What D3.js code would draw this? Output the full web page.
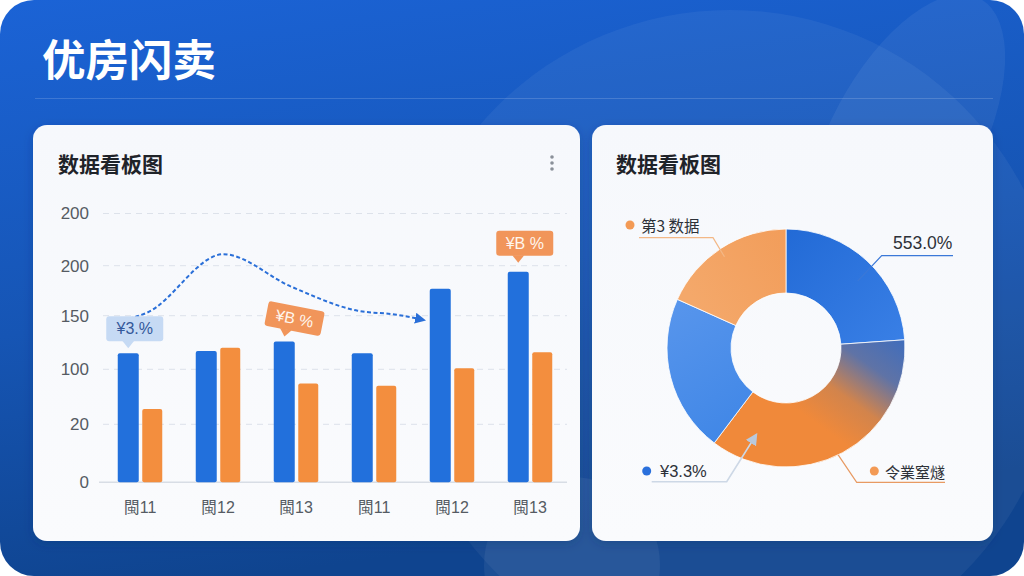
<!DOCTYPE html>
<html><head><meta charset="utf-8">
<script src="https://cdn.jsdelivr.net/npm/d3@7"></script>
<style>html,body{margin:0;padding:0;background:#fff;} svg{display:block}</style>
</head><body>
<svg id="c" width="1024" height="576"></svg>
<script>
// ---------- data ----------
const pageTitle = "优房闪卖";
const cardTitle = "数据看板图";
const categories = ["閩11","閩12","閩13","閩11","閩12","閩13"];
const seriesBlue = [115, 117, 126, 115, 177, 194];
const seriesOrange = [64, 120, 87, 85, 101, 116];
const yTickValues = [0, 50, 100, 150, 200, 250];
const yTickLabels = ["0","20","100","150","200","200"];
const trendIdx = [-0.08, 0.15, 1.13, 2.0, 2.85, 3.35, 3.7];
const trendVals = [147, 153, 211, 179, 155, 151, 146];
const calloutIdx = [0, 2, 5];
const calloutText = ["¥3.%", "¥B %", "¥B %"];
const calloutKind = ["blue", "orange", "orange"];
const pieNames = ["553.0%", "令業窒燧", "¥3.3%", "第3 数据"];
const pieValues = [23.9, 36.4, 21.4, 18.3];

// ---------- setup ----------
const svg = d3.select("#c");
const W = 1024, H = 576;
const FONT = "'Liberation Sans','Noto Sans CJK SC',sans-serif";
const CJK = "'Noto Sans CJK SC','Liberation Sans',sans-serif";
const defs = svg.append("defs");

const bg = defs.append("linearGradient").attr("id","bg").attr("x1",0).attr("y1",0).attr("x2",0.25).attr("y2",1);
bg.append("stop").attr("offset","0").attr("stop-color","#1b63d6");
bg.append("stop").attr("offset","0.55").attr("stop-color","#1655b4");
bg.append("stop").attr("offset","1").attr("stop-color","#0f448f");

const clip = defs.append("clipPath").attr("id","bgclip");
clip.append("rect").attr("width",W).attr("height",H).attr("rx",34);

const sh = defs.append("filter").attr("id","shadow").attr("x","-10%").attr("y","-10%").attr("width","120%").attr("height","125%");
sh.append("feDropShadow").attr("dx",0).attr("dy",3).attr("stdDeviation",5).attr("flood-color","#0a2a60").attr("flood-opacity",0.25);

const cardGrad = defs.append("linearGradient").attr("id","card").attr("x1",0).attr("y1",0).attr("x2",0).attr("y2",1);
cardGrad.append("stop").attr("offset","0").attr("stop-color","#f6f8fc");
cardGrad.append("stop").attr("offset","1").attr("stop-color","#fafbfd");

// background
const bgG = svg.append("g").attr("clip-path","url(#bgclip)");
bgG.append("rect").attr("width",W).attr("height",H).attr("fill","url(#bg)");
bgG.append("ellipse").attr("cx",730).attr("cy",340).attr("rx",330).attr("ry",330).attr("fill","#fff").attr("opacity",0.05);
bgG.append("ellipse").attr("cx",0).attr("cy",0).attr("rx",75).attr("ry",160)
  .attr("transform","translate(905,140) rotate(28)").attr("fill","#fff").attr("opacity",0.06);
bgG.append("circle").attr("cx",572).attr("cy",565).attr("r",88).attr("fill","#fff").attr("opacity",0.06);

// title
svg.append("text").attr("x",42).attr("y",57).attr("dominant-baseline","central")
  .attr("font-family",CJK).attr("font-weight",700).attr("font-size",43.5).attr("fill","#fff").text(pageTitle);
svg.append("line").attr("x1",35).attr("x2",993).attr("y1",98.5).attr("y2",98.5)
  .attr("stroke","#fff").attr("stroke-opacity",0.16).attr("stroke-width",1);

// cards
svg.append("rect").attr("x",33).attr("y",125).attr("width",547).attr("height",416).attr("rx",14)
  .attr("fill","url(#card)").attr("filter","url(#shadow)");
svg.append("rect").attr("x",592).attr("y",125).attr("width",401).attr("height",416).attr("rx",14)
  .attr("fill","url(#card)").attr("filter","url(#shadow)");

[58, 616].forEach(x => svg.append("text").attr("x",x).attr("y",163).attr("dominant-baseline","central")
  .attr("font-family",CJK).attr("font-weight",700).attr("font-size",21).attr("fill","#1f2329").text(cardTitle));

// kebab
[157,163,169].forEach(y => svg.append("circle").attr("cx",552).attr("cy",y).attr("r",1.8).attr("fill","#8a9099"));

// ---------- bar chart ----------
const x = d3.scaleBand().domain(d3.range(categories.length)).range([101, 569]).paddingInner(0).paddingOuter(0);
const y = d3.scaleLinear().domain(yTickValues).range([482.3, 424.3, 369.3, 315.7, 265.7, 213.5]);
const bw = 21, bw2 = 20, gap = 3.5;
const pairW = bw + gap + bw2;
const cx = i => x(i) + x.bandwidth()/2;

const grid = svg.append("g");
yTickValues.forEach((v,i) => {
  if (v === 0) return;
  grid.append("line").attr("x1",103).attr("x2",567).attr("y1",y(v)).attr("y2",y(v))
    .attr("stroke","#dde2ea").attr("stroke-width",1).attr("stroke-dasharray","6,5");
});
svg.append("line").attr("x1",99).attr("x2",567).attr("y1",y(0)).attr("y2",y(0)).attr("stroke","#d8dde5").attr("stroke-width",1.5);

const yAxis = d3.axisLeft(y).tickValues(yTickValues).tickFormat((d,i)=>yTickLabels[i]).tickSize(0).tickPadding(0);
const yg = svg.append("g").attr("transform","translate(89,0)").call(yAxis);
yg.select(".domain").remove();
yg.selectAll("text").attr("font-family",FONT).attr("font-size",17).attr("fill","#555b63");

const xAxis = d3.axisBottom(x).tickFormat(i=>categories[i]).tickSize(0).tickPadding(0);
const xg = svg.append("g").attr("transform","translate(0,507)").call(xAxis);
xg.select(".domain").remove();
xg.selectAll("text").attr("dy",null).attr("dominant-baseline","central")
  .attr("font-family",FONT).attr("font-size",16).attr("fill","#555b63");

const bars = svg.append("g");
bars.selectAll("rect.b").data(seriesBlue).join("rect").attr("class","b")
  .attr("x",(d,i)=>cx(i)-pairW/2).attr("y",d=>y(d)).attr("width",bw).attr("height",d=>y(0)-y(d))
  .attr("rx",2).attr("fill","#2270dc");
bars.selectAll("rect.o").data(seriesOrange).join("rect").attr("class","o")
  .attr("x",(d,i)=>cx(i)-pairW/2+bw+gap).attr("y",d=>y(d)).attr("width",bw2).attr("height",d=>y(0)-y(d))
  .attr("rx",2).attr("fill","#f38e3e");

// trend line
const xi = d3.scaleLinear().domain([0, categories.length-1]).range([cx(0)-pairW/2+bw/2, cx(categories.length-1)-pairW/2+bw/2]);
defs.append("marker").attr("id","arr").attr("viewBox","0 0 10 10").attr("refX",8).attr("refY",5)
  .attr("markerWidth",11).attr("markerHeight",11).attr("markerUnits","userSpaceOnUse").attr("orient","auto")
  .append("path").attr("d","M0,0 L10,5 L0,10 Z").attr("fill","#2a6fd8");
const line = d3.line().x(d=>xi(d[0])+7).y(d=>y(d[1])).curve(d3.curveMonotoneX);
svg.append("path").datum(trendIdx.map((t,i)=>[t,trendVals[i]])).attr("d",line)
  .attr("fill","none").attr("stroke","#2a6fd8").attr("stroke-width",2).attr("stroke-dasharray","4,2.5")
  .attr("marker-end","url(#arr)");

// callouts
calloutIdx.forEach((ci,k) => {
  const bx = cx(ci)-pairW/2+bw/2;
  const top = y(seriesBlue[ci]);
  const gapAbove = k===2 ? 8 : 4;
  const rot = k===1 ? 11 : 0;
  const blue = calloutKind[k]==="blue";
  const g = svg.append("g").attr("transform",`translate(${bx},${top-gapAbove}) rotate(${rot})`);
  g.append("rect").attr("x",-22).attr("y",-33).attr("width",57).attr("height",25).attr("rx",3)
    .attr("fill", blue ? "#c6daf4" : "#f1955a");
  g.append("path").attr("d","M-6,-8.5 L6,-8.5 L0,-1 Z").attr("fill", blue ? "#c6daf4" : "#f1955a");
  g.append("text").attr("x",6.5).attr("y",-20.5).attr("text-anchor","middle").attr("dominant-baseline","central")
    .attr("font-family",FONT).attr("font-size",16).attr("fill", blue ? "#34589a" : "#fff6ee").text(calloutText[k]);
});

// ---------- donut ----------
const C = [786, 348];
const R = 119, r0 = 55;
// gradient coordinates are relative to the donut group's origin (its centre)
const pg = defs.append("linearGradient").attr("id","mix").attr("gradientUnits","userSpaceOnUse")
  .attr("x1",118).attr("y1",-10).attr("x2",48).attr("y2",88);
pg.append("stop").attr("offset","0").attr("stop-color","#3f6dbd");
pg.append("stop").attr("offset","0.35").attr("stop-color","#5f73a6");
pg.append("stop").attr("offset","0.68").attr("stop-color","#d2844c");
pg.append("stop").attr("offset","1").attr("stop-color","#f0893a");
const bluGrad = defs.append("linearGradient").attr("id","blu").attr("gradientUnits","userSpaceOnUse")
  .attr("x1",0).attr("y1",-R).attr("x2",R).attr("y2",0);
bluGrad.append("stop").attr("offset","0").attr("stop-color","#226ad6");
bluGrad.append("stop").attr("offset","1").attr("stop-color","#3a80e6");
const lbGrad = defs.append("linearGradient").attr("id","lb").attr("gradientUnits","userSpaceOnUse")
  .attr("x1",-R).attr("y1",-40).attr("x2",-40).attr("y2",90);
lbGrad.append("stop").attr("offset","0").attr("stop-color","#5795ec");
lbGrad.append("stop").attr("offset","1").attr("stop-color","#3f86e6");
const loGrad = defs.append("linearGradient").attr("id","lo").attr("gradientUnits","userSpaceOnUse")
  .attr("x1",-100).attr("y1",-60).attr("x2",0).attr("y2",-R);
loGrad.append("stop").attr("offset","0").attr("stop-color","#f4a86a");
loGrad.append("stop").attr("offset","1").attr("stop-color","#f29d5a");
const fills = ["url(#blu)","url(#mix)","url(#lb)","url(#lo)"];

const pie = d3.pie().sort(null).startAngle(0).endAngle(2*Math.PI);
const arc = d3.arc().innerRadius(r0).outerRadius(R);
const dg = svg.append("g").attr("transform",`translate(${C[0]},${C[1]})`);
dg.selectAll("path").data(pie(pieValues)).join("path").attr("d",arc)
  .attr("fill",(d,i)=>fills[i]).attr("stroke","#fff").attr("stroke-width",0.8);

const polar = (deg, rad) => [C[0] + rad*Math.sin(deg*Math.PI/180), C[1] - rad*Math.cos(deg*Math.PI/180)];

const lab = svg.append("g").attr("font-family",FONT);
// top right label
{
  const p = polar(47, 98);
  lab.append("polyline").attr("points",`${p[0]},${p[1]} 881.7,255.7 953,255.7`).attr("fill","none")
    .attr("stroke","#3a78d8").attr("stroke-width",1.2);
  lab.append("text").attr("x",893).attr("y",243).attr("dominant-baseline","central").attr("font-size",17.5)
    .attr("fill","#2d3138").text(pieNames[0]);
}
// top left label
{
  const p = polar(326, 110);
  lab.append("polyline").attr("points",`639,237.7 713,237.7 ${p[0]},${p[1]}`).attr("fill","none")
    .attr("stroke","#f3b886").attr("stroke-width",1.2);
  lab.append("circle").attr("cx",630).attr("cy",225).attr("r",4.5).attr("fill","#f39a55");
  lab.append("text").attr("x",641).attr("y",225).attr("dominant-baseline","central").attr("font-size",15.5)
    .attr("font-family",CJK).attr("fill","#2d3138").text(pieNames[3]);
}
// bottom left label with arrow
{
  defs.append("marker").attr("id","arr2").attr("viewBox","0 0 10 10").attr("refX",8).attr("refY",5)
    .attr("markerWidth",12).attr("markerHeight",12).attr("markerUnits","userSpaceOnUse").attr("orient","auto")
    .append("path").attr("d","M0,0 L10,5 L0,10 Z").attr("fill","#b9c9dd");
  const p = polar(199, 92);
  lab.append("polyline").attr("points",`651.7,481.7 726.7,481.7 ${p[0]},${p[1]}`).attr("fill","none")
    .attr("stroke","#cdd8e6").attr("stroke-width",1.6).attr("marker-end","url(#arr2)");
  lab.append("circle").attr("cx",646.7).attr("cy",471).attr("r",4.5).attr("fill","#2a70dc");
  lab.append("text").attr("x",660).attr("y",471).attr("dominant-baseline","central").attr("font-size",16.5)
    .attr("fill","#2d3138").text(pieNames[2]);
}
// bottom right label
{
  const p = polar(154, 119);
  lab.append("polyline").attr("points",`${p[0]},${p[1]} 856.7,482.3 945,482.3`).attr("fill","none")
    .attr("stroke","#e89a62").attr("stroke-width",1.2);
  lab.append("circle").attr("cx",874.3).attr("cy",471).attr("r",4.5).attr("fill","#f39a55");
  lab.append("text").attr("x",885).attr("y",471).attr("dominant-baseline","central").attr("font-size",15)
    .attr("font-family",CJK).attr("fill","#2d3138").text(pieNames[1]);
}
</script>
</body></html>
